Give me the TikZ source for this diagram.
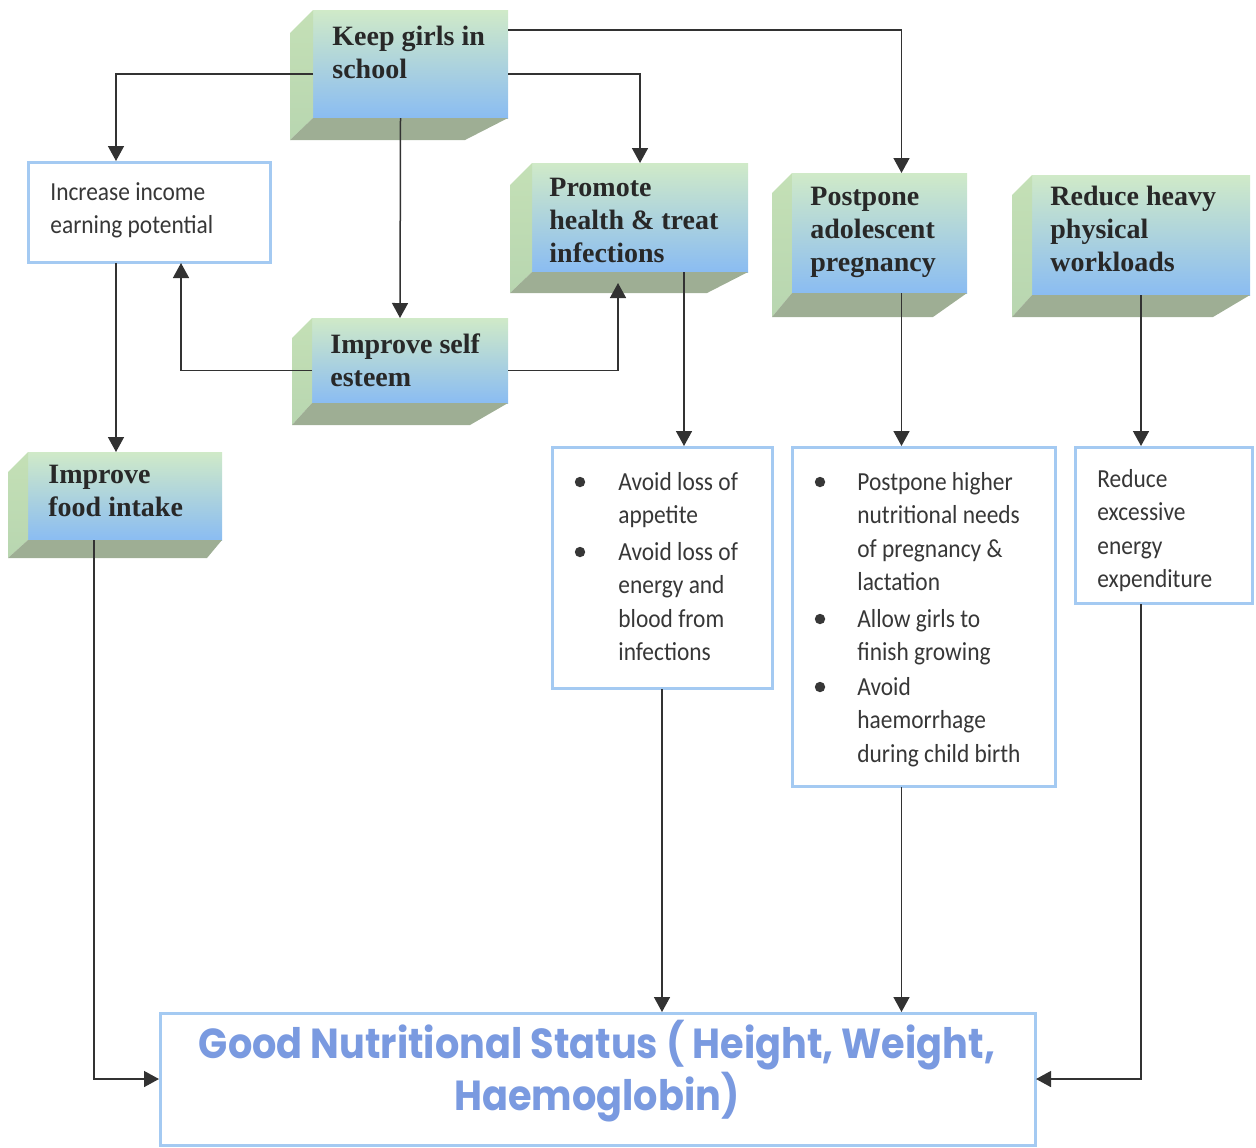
\documentclass[tikz,border=0pt]{standalone}
\usepackage{fontspec}
\usetikzlibrary{arrows.meta,calc}
\newfontfamily\serifb{Liberation Serif}
\newfontfamily\lightsans{Carlito}[FakeStretch=0.9]
\newfontfamily\goodfont{Poppins}[FakeStretch=0.91]
\definecolor{fgreen}{RGB}{208,234,200}
\definecolor{fmid}{RGB}{172,212,244}
\definecolor{fblue}{RGB}{138,188,242}
\definecolor{sideA}{RGB}{196,224,182}
\definecolor{sideB}{RGB}{184,214,176}
\definecolor{botfill}{RGB}{158,174,148}
\definecolor{rectblue}{RGB}{164,202,242}
\definecolor{goodblue}{RGB}{122,154,224}
\definecolor{txtdark}{RGB}{40,40,40}
\definecolor{txtlight}{RGB}{55,55,55}
\definecolor{linegray}{RGB}{50,50,50}
\tikzset{
  frontface/.style={inner sep=0pt, outer sep=0pt, top color=fgreen, middle color=fmid, bottom color=fblue},
  rectbox/.style={draw=rectblue, line width=1.5pt, inner sep=0pt, outer sep=0.5pt, fill=white},
  bt/.style={font={\fontsize{14}{16.5}\selectfont\serifb\bfseries}, text=txtdark, align=left, anchor=base west, inner sep=0pt},
  lt/.style={font={\fontsize{13}{16.75}\selectfont\lightsans}, text=txtlight, align=left, anchor=base west, inner sep=0pt},
  gt/.style={font={\fontsize{21}{23.5}\selectfont\goodfont\bfseries}, text=goodblue, align=center, anchor=base, inner sep=0pt},
  arr/.style={draw=linegray, line width=0.75pt, -{Triangle[width=8pt,length=7.5pt]}},
  bullet/.style={fill=txtlight}
}
\newcommand\leftface[4]{% name, d, h, b
  \shade[top color=sideA, bottom color=sideB] (#1.north west) -- (#1.south west) -- ++(-#2,#3) -- ($(#1.north west)+(-#2,#2)$) -- cycle;
}
\newcommand\bottomface[4]{% name, d, h, b
  \fill[botfill] (#1.south west) -- (#1.south east) -- ++(-#4,#3) -- ($(#1.south west)+(-#2,#3)$) -- cycle;
}
\begin{document}
\begin{tikzpicture}[x=0.5pt,y=-0.5pt]
\useasboundingbox (0,0) rectangle (1256,1147);

% 3D boxes: front faces
\node[frontface, minimum width=97.5pt, minimum height=54pt] (keep) at (410.5,64) {};
\node[frontface, minimum width=98pt, minimum height=42.5pt] (self) at (410,360.5) {};
\node[frontface, minimum width=108pt, minimum height=54.5pt] (promote) at (640,217.5) {};
\node[frontface, minimum width=87.5pt, minimum height=60pt] (postp) at (879.5,233) {};
\node[frontface, minimum width=109pt, minimum height=60pt] (reduce) at (1141,235) {};
\node[frontface, minimum width=97pt, minimum height=44pt] (food) at (125,496) {};

\leftface{keep}{23}{22}{43}
\leftface{self}{20}{22}{38}
\leftface{promote}{22}{21}{41}
\leftface{postp}{20}{24}{34}
\leftface{reduce}{20}{22}{37}
\leftface{food}{20}{18}{15}

% texts of 3D boxes (anchor = baseline of last line)
\node[bt] (keepT) at (332,78) {Keep girls in\\school};
\node[bt] (selfT) at (330,386) {Improve self\\esteem};
\node[bt] (promT) at (549,262) {Promote\\health \& treat\\infections};
\node[bt] (postT) at (810,271) {Postpone\\adolescent\\pregnancy};
\node[bt] (redT) at (1050,271) {Reduce heavy\\physical\\workloads};
\node[bt] (foodT) at (48,516) {Improve\\food intake};

\bottomface{keep}{23}{22}{43}
\bottomface{self}{20}{22}{38}
\bottomface{promote}{22}{21}{41}
\bottomface{postp}{20}{24}{34}
\bottomface{reduce}{20}{22}{37}
\bottomface{food}{20}{18}{15}

% plain boxes
\node[rectbox, minimum width=121pt, minimum height=50pt] (income) at (149,212) {};
\node[rectbox, minimum width=110pt, minimum height=120.5pt] (avoid) at (662,567.5) {};
\node[rectbox, minimum width=131.5pt, minimum height=169.5pt] (postx) at (923.5,616.5) {};
\node[rectbox, minimum width=88.5pt, minimum height=78pt] (redx) at (1163.5,525) {};
\node[rectbox, minimum width=437.5pt, minimum height=66pt] (good) at (597.5,1079) {};

\node[lt] (incT) at (50,233.5) {Increase income\\earning potential};
\node[lt] (av1) at (618,523.5) {Avoid loss of\\appetite};
\node[lt] (av2) at (618,660.5) {Avoid loss of\\energy and\\blood from\\infections};
\node[lt] (px1) at (857,590.5) {Postpone higher\\nutritional needs\\of pregnancy \&\\lactation};
\node[lt] (px2) at (857,660.5) {Allow girls to\\finish growing};
\node[lt] (px3) at (857,762) {Avoid\\haemorrhage\\during child birth};
\node[lt] (rxT) at (1097,587.5) {Reduce\\excessive\\energy\\expenditure};
\fill[bullet] (580,482) circle[radius=2.6pt];
\fill[bullet] (580,552) circle[radius=2.6pt];
\fill[bullet] (820,482) circle[radius=2.6pt];
\fill[bullet] (820,619) circle[radius=2.6pt];
\fill[bullet] (820,687) circle[radius=2.6pt];

\node[gt] (goodT) at (597,1110) {Good Nutritional Status ( Height, Weight,\\Haemoglobin)};

% helper coordinates
\coordinate (incL) at ([xshift=-16.5pt]income.south);
\coordinate (incR) at ([xshift=16pt]income.south);
\coordinate (promR) at ([xshift=22pt]promote.south);
\coordinate (promL) at ([xshift=-11pt,yshift=-5.5pt]promote.south);
\coordinate (postC) at ([xshift=11pt]postp.south);
\coordinate (postTop) at ([xshift=11pt]postp.north);
\coordinate (keepD) at ([xshift=-5pt]keep.south);
\coordinate (selfU) at ([xshift=-5pt]self.north);
\coordinate (foodD) at ([xshift=-15.5pt]food.south);

% connectors
\draw[arr] ([yshift=-5pt]keep.west) -| ([xshift=-16.5pt]income.north);
\draw[arr] ([yshift=-5pt]keep.east) -| (promote.north);
\draw[arr] ([yshift=-10pt]keep.north east) -| (postTop);
\draw[arr] (keepD) -- (selfU);
\draw[arr] ([yshift=-5pt]self.west) -| (incR);
\draw[arr] ([yshift=-5pt]self.east) -| (promL);
\draw[arr] (incL) -- (incL |- food.north);
\draw[arr] (promR) -- (promR |- avoid.north);
\draw[arr] (postC) -- (postC |- postx.north);
\draw[arr] (reduce.south) -- (reduce.south |- redx.north);
\draw[arr] (foodD) |- (good.west);
\draw[arr] (avoid.south) -- (avoid.south |- good.north);
\draw[arr] (postC |- postx.south) -- (postC |- good.north);
\draw[arr] (reduce.south |- redx.south) |- (good.east);
\end{tikzpicture}
\end{document}
